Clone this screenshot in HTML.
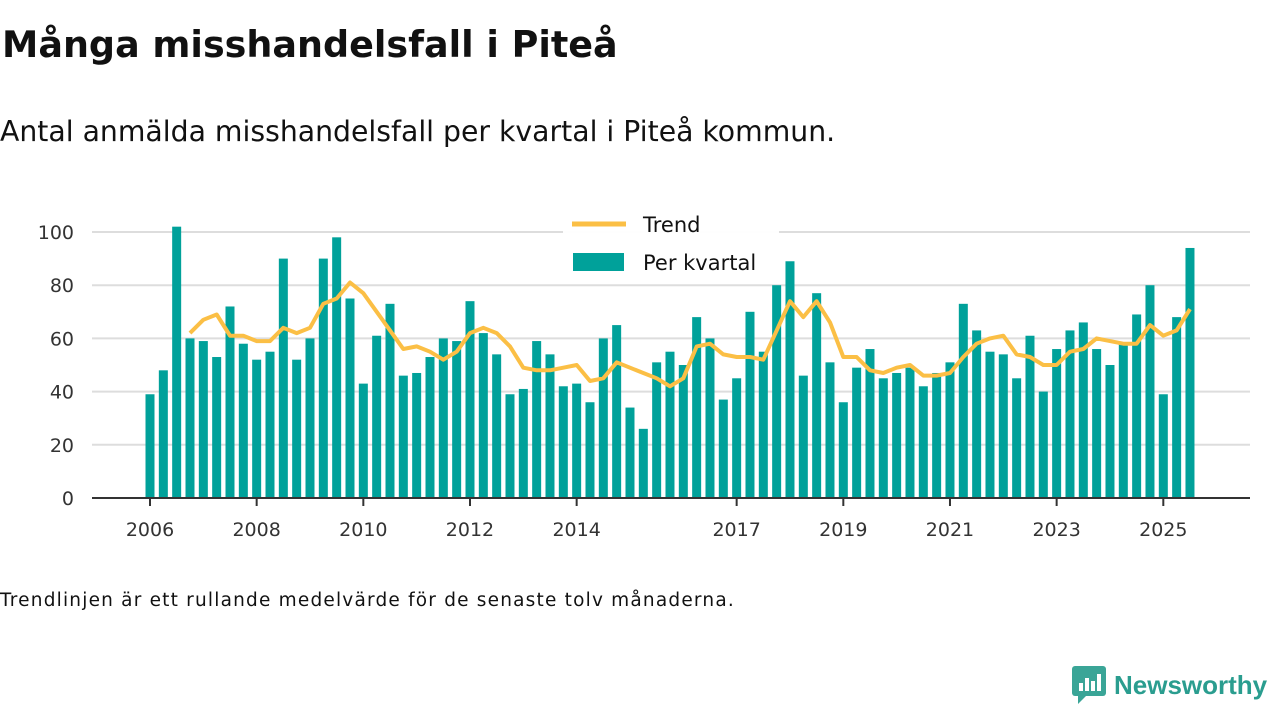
<!DOCTYPE html>
<html><head><meta charset="utf-8"><style>
body{margin:0;width:1280px;height:720px;background:#fff;font-family:"DejaVu Sans",sans-serif;color:#111;position:relative;overflow:hidden}
#title{position:absolute;left:2px;top:23px;font-size:36.5px;font-weight:bold;margin:0;white-space:nowrap}
#sub{position:absolute;left:0;top:115px;font-size:28.3px;white-space:nowrap}
#note{position:absolute;left:0;top:590px;font-size:18.5px;letter-spacing:1.2px;white-space:nowrap}
#logo{position:absolute;left:1072px;top:666px;display:flex;align-items:center;gap:8px;color:#2a9d8f;font-size:26px;font-weight:bold;font-family:"Liberation Sans",sans-serif}
</style></head><body>
<h1 id="title">Många misshandelsfall i Piteå</h1>
<div id="sub">Antal anmälda misshandelsfall per kvartal i Piteå kommun.</div>
<svg id="chart" width="1280" height="720" style="position:absolute;left:0;top:0"></svg>
<div id="note">Trendlinjen är ett rullande medelvärde för de senaste tolv månaderna.</div>
<div id="logo"><svg width="34" height="38" viewBox="0 0 34 38"><rect x="0" y="0" width="34" height="30" rx="3" fill="#3aa597"/><polygon points="6,30 14,30 6,38" fill="#3aa597"/><rect x="7" y="17" width="4" height="8" fill="#fff"/><rect x="13" y="12" width="4" height="13" fill="#fff"/><rect x="19" y="15" width="4" height="10" fill="#fff"/><rect x="25" y="8" width="4" height="17" fill="#fff"/></svg><span>Newsworthy</span></div>
<script>
const bars=[39,48,102,60, 59,53,72,58, 52,55,90,52, 60,90,98,75, 43,61,73,46, 47,53,60,59, 74,62,54,39, 41,59,54,42, 43,36,60,65, 34,26,51,55, 50,68,60,37, 45,70,55,80, 89,46,77,51, 36,49,56,45, 47,49,42,47, 51,73,63,55, 54,45,61,40, 56,63,66,56, 50,58,69,80, 39,68,94];
const trend=[62, 67,69,61,61, 59,59,64,62, 64,73,75,81, 77,70,63,56, 57,55,52,55, 62,64,62,57, 49,48,48,49, 50,44,45,51, 49,47,45,42, 45,57,58,54, 53,53,52,63, 74,68,74,66, 53,53,48,47, 49,50,46,46, 47,53,58,60, 61,54,53,50, 50,55,56,60, 59,58,58,65, 61,63,71];
const trendStart=3;
const yTicks=[0,20,40,60,80,100];
const xYears=[2006,2008,2010,2012,2014,2017,2019,2021,2023,2025];
const startYear=2006;
const NS='http://www.w3.org/2000/svg';
const svg=document.getElementById('chart');
const FF='DejaVu Sans, sans-serif';
const x=i=>150+i*13.333;
const y=v=>498-v*2.66;
function mk(t,a,p){const e=document.createElementNS(NS,t);for(const k in a)e.setAttribute(k,a[k]);(p||svg).appendChild(e);return e;}
yTicks.forEach(v=>{
 if(v>0){const g=mk('line',{x1:92,x2:1250,y1:y(v),y2:y(v),stroke:'#ddd','stroke-width':2});
 
 }
 const t=mk('text',{x:74,y:y(v)+7,'text-anchor':'end','font-size':19,fill:'#333','font-family':FF});
 
 
 t.textContent=v;
});
bars.forEach((v,i)=>{
 const r=mk('rect',{x:x(i)-4.5,y:y(v),width:9,height:y(0)-y(v),fill:'#00a19a'});
 
 
});
const pts=trend.map((v,i)=>x(i+trendStart).toFixed(1)+','+y(v).toFixed(1)).join(' ');
const pl=mk('polyline',{points:pts,fill:'none',stroke:'#fbbf45','stroke-width':4,'stroke-linejoin':'round'});


const ax=mk('line',{x1:92,x2:1250,y1:498,y2:498,stroke:'#333','stroke-width':2});


xYears.forEach(yr=>{
 const xi=x((yr-startYear)*4);
 const tk=mk('line',{x1:xi,x2:xi,y1:498,y2:506,stroke:'#333','stroke-width':2});
 
 
 const t=mk('text',{x:xi,y:536,'text-anchor':'middle','font-size':19,fill:'#333','font-family':FF});
 
 
 t.textContent=yr;
});
const lg=mk('g',{});


mk('rect',{x:563,y:206,width:216,height:78,fill:'#fff',opacity:0.95},lg);
mk('line',{x1:572,x2:626,y1:224,y2:224,stroke:'#fbbf45','stroke-width':5},lg);
mk('rect',{x:573,y:253,width:51,height:18,fill:'#00a19a'},lg);
const t1=mk('text',{x:643,y:232,'font-size':21,fill:'#111','font-family':FF},lg);t1.textContent='Trend';


const t2=mk('text',{x:643,y:270,'font-size':21,fill:'#111','font-family':FF},lg);t2.textContent='Per kvartal';


</script>
</body></html>
